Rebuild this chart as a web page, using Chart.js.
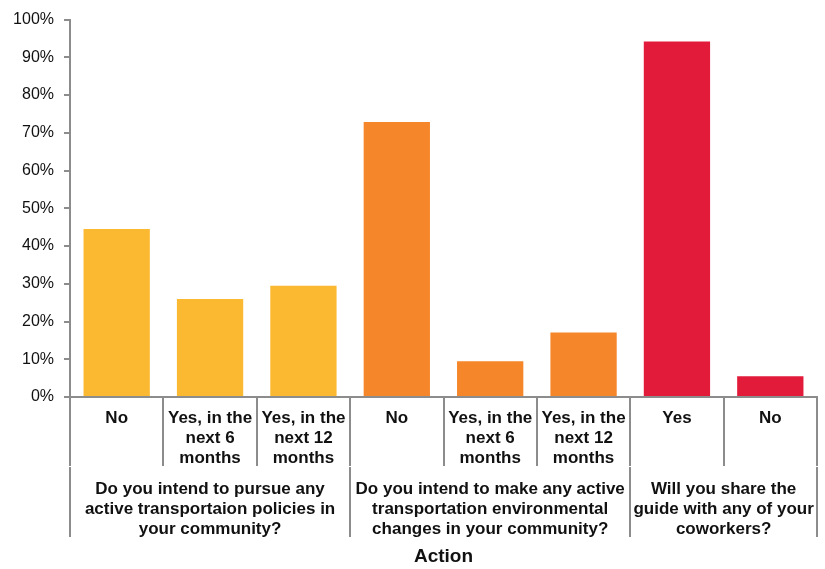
<!DOCTYPE html>
<html lang="en">
<head>
    <meta charset="UTF-8">
    <title>Action</title>
    <style>
        body {
            margin: 0;
            background: #fff;
        }
    </style>
    <script src="https://cdn.jsdelivr.net/npm/chart.js"></script>
</head>
<body>
    <canvas id="actionChart" width="825" height="569"></canvas>
    <script>
        // Answer labels, one per bar
        var answers = [
            'No',
            ['Yes, in the', 'next 6', 'months'],
            ['Yes, in the', 'next 12', 'months'],
            'No',
            ['Yes, in the', 'next 6', 'months'],
            ['Yes, in the', 'next 12', 'months'],
            'Yes',
            'No'
        ];

        // Percent of respondents for each answer
        var percents = [44.5, 26, 29.5, 72.9, 9.5, 17.1, 94.2, 5.5];

        // Question each bar belongs to (index into questions)
        var questionOf = [0, 0, 0, 1, 1, 1, 2, 2];

        var questions = [
            ['Do you intend to pursue any', 'active transportaion policies in', 'your community?'],
            ['Do you intend to make any active', 'transportation environmental', 'changes in your community?'],
            ['Will you share the', 'guide with any of your', 'coworkers?']
        ];
        var questionColors = ['#FBB931', '#F58629', '#E31B3A'];

        var yTicks = [0, 10, 20, 30, 40, 50, 60, 70, 80, 90, 100];

        var axisGray = '#8c8c8c';
        var textColor = '#111111';
        var fontFamily = 'Liberation Sans, Arial, sans-serif';

        // Positions on the lower axis: group edges and group centres, in bar-index units
        var groupEdges = [-0.5];
        var groupCentres = [];
        questions.forEach(function (q, qi) {
            var idx = [];
            questionOf.forEach(function (g, i) { if (g === qi) idx.push(i); });
            groupCentres.push((idx[0] + idx[idx.length - 1]) / 2);
            groupEdges.push(idx[idx.length - 1] + 0.5);
        });

        var ctx = document.getElementById('actionChart').getContext('2d');
        new Chart(ctx, {
            type: 'bar',
            data: {
                labels: answers,
                datasets: [{
                    data: percents,
                    backgroundColor: questionOf.map(function (g) { return questionColors[g]; }),
                    barPercentage: 0.71,
                    categoryPercentage: 1
                }]
            },
            options: {
                responsive: false,
                animation: false,
                layout: { padding: { top: 17, right: 8, bottom: 0, left: 0 } },
                plugins: {
                    legend: { display: false },
                    tooltip: { enabled: false }
                },
                scales: {
                    y: {
                        min: 0,
                        max: 100,
                        afterBuildTicks: function (scale) {
                            scale.ticks = yTicks.map(function (v) { return { value: v }; });
                        },
                        afterFit: function (scale) { scale.width = 70; },
                        grid: {
                            drawOnChartArea: false,
                            tickLength: 6,
                            color: axisGray,
                            lineWidth: 2
                        },
                        border: { color: axisGray, width: 2 },
                        ticks: {
                            padding: 10,
                            color: textColor,
                            font: { family: fontFamily, size: 16 },
                            callback: function (v) { return v + '%'; }
                        }
                    },
                    x: {
                        weight: 0,
                        afterFit: function (scale) { scale.height = 70; },
                        grid: {
                            drawOnChartArea: false,
                            offset: true,
                            tickLength: 69,
                            color: axisGray,
                            lineWidth: 2
                        },
                        border: { color: axisGray, width: 2 },
                        ticks: {
                            padding: -58,
                            maxRotation: 0,
                            autoSkip: false,
                            color: textColor,
                            font: { family: fontFamily, size: 17, weight: 'bold', lineHeight: '20px' }
                        }
                    },
                    // second row: question text under each group of answers
                    questions: {
                        type: 'linear',
                        position: 'bottom',
                        weight: 1,
                        min: -0.5,
                        max: 7.5,
                        offset: false,
                        afterBuildTicks: function (scale) {
                            scale.ticks = groupEdges.concat(groupCentres)
                                .sort(function (a, b) { return a - b; })
                                .map(function (v) { return { value: v }; });
                        },
                        afterFit: function (scale) { scale.height = 102; },
                        grid: {
                            drawOnChartArea: false,
                            offset: false,
                            tickLength: 70,
                            lineWidth: 2,
                            tickColor: function (c) {
                                var edge = c.tick && groupEdges.indexOf(c.tick.value) >= 0;
                                return edge ? axisGray : 'rgba(0,0,0,0)';
                            }
                        },
                        border: { display: false },
                        ticks: {
                            padding: -58,
                            maxRotation: 0,
                            autoSkip: false,
                            color: textColor,
                            font: { family: fontFamily, size: 17, weight: 'bold', lineHeight: '20px' },
                            callback: function (v) {
                                var gi = groupCentres.indexOf(v);
                                return gi >= 0 ? questions[gi] : '';
                            }
                        },
                        title: {
                            display: true,
                            text: 'Action',
                            color: textColor,
                            padding: { top: 0, bottom: 1 },
                            font: { family: fontFamily, size: 19, weight: 'bold', lineHeight: '22px' }
                        }
                    }
                }
            }
        });
    </script>
</body>
</html>
